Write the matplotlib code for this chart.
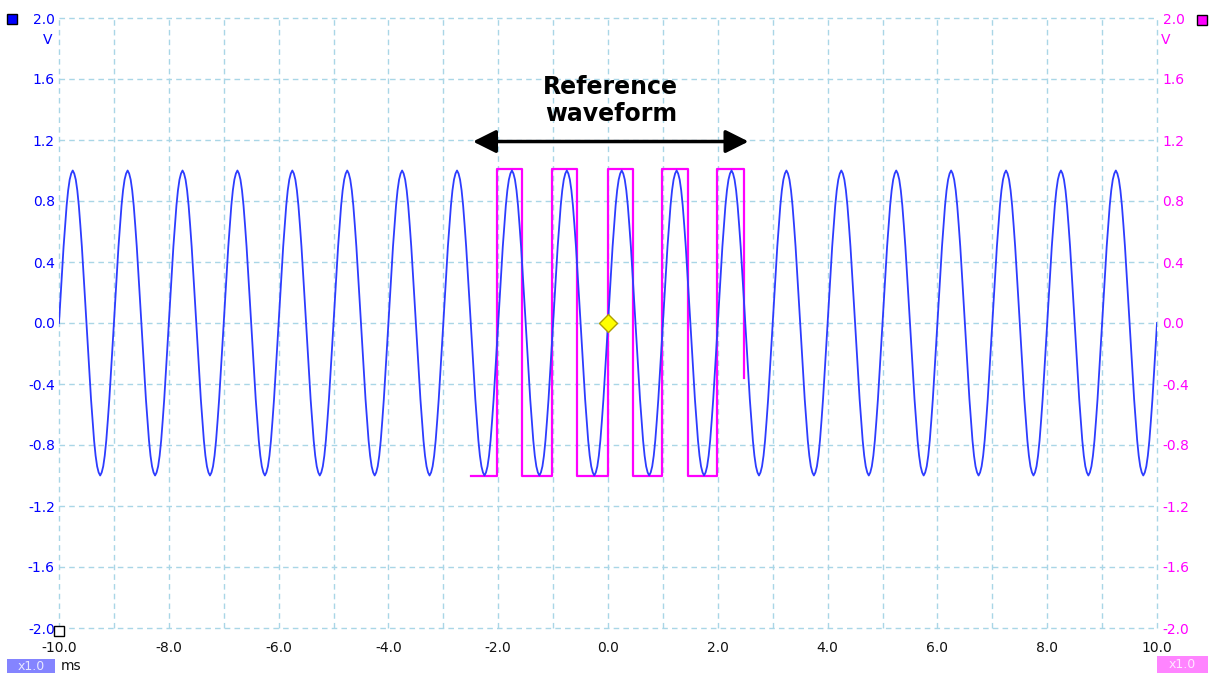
import numpy as np
import matplotlib
matplotlib.use('Agg')
import matplotlib.pyplot as plt
from matplotlib.patches import Rectangle

# channel A: one cycle of the blue trace (36 samples, volts), repeated for every cycle
cycle_a = [0.00, 0.17, 0.34, 0.50, 0.64, 0.77, 0.87, 0.94, 0.98,
           1.00, 0.98, 0.94, 0.87, 0.77, 0.64, 0.50, 0.34, 0.17,
           0.00, -0.17, -0.34, -0.50, -0.64, -0.77, -0.87, -0.94, -0.98,
           -1.00, -0.98, -0.94, -0.87, -0.77, -0.64, -0.50, -0.34, -0.17]
n_cycles = 20
t_start = -10.0      # ms
period = 1.0         # ms

# channel B: reference square wave, edge times (ms) and levels (V)
sq_t = [-2.50, -2.02, -1.56, -1.02, -0.56, 0.00, 0.46, 0.98, 1.46, 1.99, 2.48]
sq_v = [-1.00, 1.01, -1.00, 1.01, -1.00, 1.01, -1.00, 1.01, -1.00, 1.01, -0.36]

x_ticks = list(range(-10, 11))
x_labels = ['-10.0', '', '-8.0', '', '-6.0', '', '-4.0', '', '-2.0', '', '0.0',
            '', '2.0', '', '4.0', '', '6.0', '', '8.0', '', '10.0']
y_ticks = [-2.0, -1.6, -1.2, -0.8, -0.4, 0.0, 0.4, 0.8, 1.2, 1.6, 2.0]
y_labels = ['-2.0', '-1.6', '-1.2', '-0.8', '-0.4', '0.0', '0.4', '0.8', '1.2', '1.6', '2.0']

blue = '#2d3cff'
pink = '#ff00ff'
grid_col = '#a9d6e6'

va = np.append(np.tile(cycle_a, n_cycles), cycle_a[0])
ta = t_start + np.arange(len(va)) * period / len(cycle_a)

W, H = 1210, 673
fig = plt.figure(figsize=(W / 100, H / 100), dpi=100)
ax = fig.add_axes([59 / W, 1 - 628 / H, (1157 - 59) / W, (628 - 18) / H])
ax.set_xlim(-10, 10)
ax.set_ylim(-2, 2)

ax.plot(sq_t, sq_v, drawstyle='steps-post', color=pink, lw=1.6, zorder=3)
ax.plot(ta, va, color=blue, lw=1.3, zorder=4)
ax.plot([0], [0], marker='D', ms=9, mfc='#ffff00', mec='#b0a000', mew=1, zorder=6)
ax.plot([-10.0], [-2.02], marker='s', ms=7, mfc='white', mec='black', mew=1,
        clip_on=False, zorder=7)

ax.annotate('', xy=(2.56, 1.19), xytext=(-2.46, 1.19),
            arrowprops=dict(arrowstyle='<|-|>,head_length=0.7,head_width=0.35',
                            color='black', lw=2.5, mutation_scale=20,
                            shrinkA=0, shrinkB=0))
ax.text(0.05, 1.46, 'Reference\nwaveform', ha='center', va='center',
        fontsize=17, fontweight='bold', color='black', linespacing=1.15)

for s in ax.spines.values():
    s.set_visible(False)
ax.set_xticks(x_ticks)
ax.set_xticklabels(x_labels)
ax.set_yticks(y_ticks)
ax.set_yticklabels(y_labels)
ax.tick_params(axis='x', length=0, pad=9, labelsize=10, labelcolor='#111111')
ax.tick_params(axis='y', length=0, pad=3, labelsize=10, labelcolor='#0000ff')
ax.grid(True, color=grid_col, lw=1, linestyle=(0, (4, 3)))
for gl in ax.get_xgridlines() + ax.get_ygridlines():
    gl.set_clip_on(False)

ax2 = ax.twinx()
ax2.set_ylim(-2, 2)
ax2.set_yticks(y_ticks)
ax2.set_yticklabels(y_labels)
ax2.tick_params(axis='y', length=0, pad=4, labelsize=10, labelcolor=pink)
for s in ax2.spines.values():
    s.set_visible(False)

# units
fig.text(48 / W, 1 - 40 / H, 'V', ha='center', va='center', fontsize=10, color='#0000ff')
fig.text(1166 / W, 1 - 40 / H, 'V', ha='center', va='center', fontsize=10, color=pink)
fig.text(61 / W, 1 - 666 / H, 'ms', ha='left', va='center', fontsize=10, color='#111111')

# channel squares and zoom boxes
fig.add_artist(Rectangle((7 / W, 1 - 24 / H), 10 / W, 10 / H, transform=fig.transFigure,
                         facecolor='#0000ff', edgecolor='black', lw=1))
fig.add_artist(Rectangle((1197 / W, 1 - 25 / H), 10 / W, 10 / H, transform=fig.transFigure,
                         facecolor=pink, edgecolor='black', lw=1))
fig.add_artist(Rectangle((7 / W, 0), 48 / W, 14 / H, transform=fig.transFigure,
                         facecolor='#8484ff', edgecolor='none'))
fig.text(31 / W, 1 - 666 / H, 'x1.0', ha='center', va='center', fontsize=9, color='#e8e8ff')
fig.add_artist(Rectangle((1157 / W, 0), 51 / W, 17 / H, transform=fig.transFigure,
                         facecolor='#ff84ff', edgecolor='none'))
fig.text(1182 / W, 1 - 665 / H, 'x1.0', ha='center', va='center', fontsize=9, color='#ffe8ff')

fig.savefig('out.png', dpi=100)
